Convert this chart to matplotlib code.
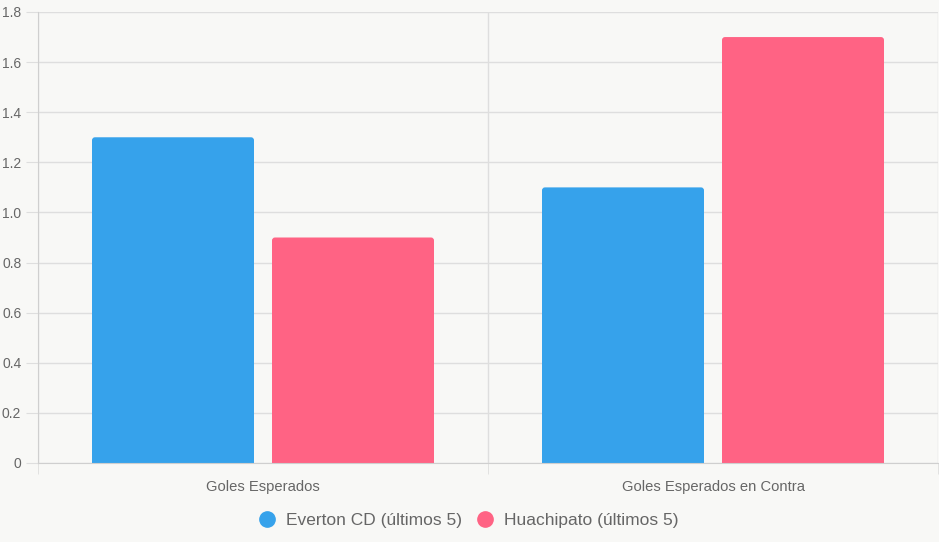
import matplotlib
matplotlib.use("Agg")
import matplotlib.pyplot as plt
from matplotlib.lines import Line2D
from matplotlib.patches import FancyBboxPatch
import numpy as np

categories = ["Goles Esperados", "Goles Esperados en Contra"]
everton = [1.3, 1.1]
huachipato = [0.9, 1.7]
series_names = ["Everton CD (últimos 5)", "Huachipato (últimos 5)"]
colors = ["#36a2eb", "#ff6384"]
yticks = [0, 0.2, 0.4, 0.6, 0.8, 1.0, 1.2, 1.4, 1.6, 1.8]
ytick_labels = ["0", "0.2", "0.4", "0.6", "0.8", "1.0", "1.2", "1.4", "1.6", "1.8"]

plt.rcParams['font.family'] = ['Liberation Sans', 'DejaVu Sans']
bg = "#f8f8f6"
fig = plt.figure(figsize=(9.39, 5.42), dpi=100, facecolor=bg)
ax = fig.add_axes([38/939, 1-463/542, 900/939, (463-12)/542])
ax.set_facecolor(bg)

ax.set_xlim(-0.5, len(categories) - 0.5)
ax.set_ylim(0, 1.8)

x = np.arange(len(categories))
w = 0.36
b1 = ax.bar(x - 0.2, everton, width=w, color=colors[0], linewidth=0, zorder=3)
b2 = ax.bar(x + 0.2, huachipato, width=w, color=colors[1], linewidth=0, zorder=3)

# rounded top corners (~3px)
xpp = 2.0 / 900
ypp = 1.8 / 451
r = 3 * xpp
for bars, c in ((b1, colors[0]), (b2, colors[1])):
    for b in bars:
        bx, by = b.get_x(), b.get_y()
        bw, bh = b.get_width(), b.get_height()
        b.set_visible(False)
        p = FancyBboxPatch((bx + r, by - 0.05), bw - 2 * r, bh + 0.05 - r * ypp / xpp,
                           boxstyle=f"round,pad={r},rounding_size={r}",
                           mutation_aspect=ypp / xpp,
                           facecolor=c, edgecolor="none", zorder=3)
        ax.add_patch(p)

ax.set_yticks(yticks)
ax.set_yticklabels(ytick_labels)
ax.set_xticks(x)
ax.set_xticklabels(categories)
ax.set_xticks(np.arange(len(categories) + 1) - 0.5, minor=True)

grid_c = "#dedede"
ax.grid(axis="y", color=grid_c, linewidth=1, zorder=0)
ax.grid(axis="x", which="minor", color=grid_c, linewidth=1, zorder=0)
ax.tick_params(axis="y", length=9, color=grid_c, labelcolor="#666666", labelsize=10, pad=3)
ax.tick_params(axis="x", which="major", length=0, labelcolor="#666666", labelsize=10.6, pad=12)
ax.tick_params(axis="x", which="minor", length=8, color=grid_c)

for s in ["top", "right"]:
    ax.spines[s].set_visible(False)
ax.spines["left"].set_color("#cfcfcf")
ax.spines["bottom"].set_color("#cfcfcf")
ax.spines["left"].set_zorder(4)
ax.spines["bottom"].set_zorder(4)

handles = [Line2D([0], [0], marker="o", linestyle="", markersize=11,
                  markerfacecolor=c, markeredgecolor=c) for c in colors]
fig.legend(handles, series_names, loc="center", bbox_to_anchor=(0.5 - 3/939, 1-520/542),
           ncol=2, frameon=False, fontsize=12.5, labelcolor="#666666",
           handlelength=1.4, handletextpad=0.38, columnspacing=0.62)

fig.savefig("out.png", dpi=100, facecolor=bg)
